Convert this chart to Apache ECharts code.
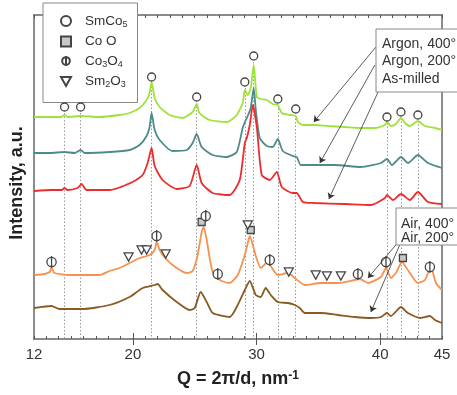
<!DOCTYPE html>
<html>
<head>
<meta charset="utf-8">
<script src="https://cdn.jsdelivr.net/npm/echarts@6/dist/echarts.min.js"></script>
<style>
html, body { margin: 0; padding: 0; background: #fff; }
#chart { width: 457px; height: 395px; }
</style>
</head>
<body>
<div id="chart"></div>
<script>
// Q = 2pi/d (nm^-1), intensity in a.u. (curves shifted as in the figure)
const argon400 = [[12.0,222],[13.26,222],[14.2,222],[14.47,224],[14.7,222],[15.77,223],[17.3,222],[18.92,224],[19.73,226],[20.54,231],[21.11,239],[21.35,246],[21.51,257],[21.76,241],[22.16,232],[22.97,224],[24.02,221],[24.83,227],[25.16,235],[25.38,226],[26.21,219],[27.59,217],[28.4,224],[28.88,236],[29.05,249],[29.29,244],[29.53,251],[29.77,274],[30.02,242],[30.34,240],[30.83,239],[31.3,235],[31.72,234],[32.04,226],[32.69,224],[33.17,223],[33.34,217],[33.74,214],[34.71,214],[35.77,213],[37.14,212],[38.44,211],[39.57,211],[40.38,214],[40.55,217],[40.87,213],[41.27,215],[41.68,221],[42.0,216],[42.4,213],[43.05,218],[43.62,213],[44.43,211],[45.0,209]];
const argon200 = [[12.0,186],[13.26,186],[14.47,187],[15.28,186],[15.77,189],[16.09,186],[18.11,187],[19.73,189],[20.54,194],[21.11,203],[21.35,212],[21.51,226],[21.76,209],[22.16,199],[23.21,188],[24.35,189],[24.83,196],[25.16,205],[25.56,192],[26.45,184],[27.59,182],[28.4,187],[28.88,211],[29.13,219],[29.29,223],[29.53,231],[29.77,251],[29.94,229],[30.26,201],[30.83,193],[31.31,192],[31.72,200],[32.12,188],[32.93,183],[33.25,182],[33.58,174],[34.31,174],[36.33,174],[38.44,172],[40.06,176],[40.55,180],[40.95,174],[41.68,182],[42.24,176],[43.05,184],[43.86,176],[45.0,171]];
const asMilled = [[12.0,148],[13.42,149],[14.23,149],[14.47,151],[14.71,149],[15.52,151],[15.85,155],[16.25,149],[18.11,149],[19.98,157],[20.79,164],[21.19,176],[21.51,191],[21.76,173],[22.4,159],[23.54,150],[24.59,153],[25.16,174],[25.56,156],[26.45,146],[27.83,144],[28.64,159],[29.05,196],[29.21,201],[29.45,214],[29.7,234],[30.02,212],[30.42,164],[31.07,159],[31.64,167],[32.04,152],[32.93,146],[33.25,146],[33.74,137],[34.71,136],[37.14,135],[39.25,134],[40.38,141],[40.55,144],[41.03,139],[41.68,145],[42.4,139],[43.05,147],[43.86,137],[45.0,135]];
const air400 = [[12.0,64],[12.85,65],[13.26,67],[13.42,71],[13.66,66],[14.87,64],[17.3,64],[18.11,68],[18.92,71],[19.73,76],[20.54,81],[21.35,84],[21.76,89],[21.92,97],[22.16,89],[22.4,84],[23.21,74],[24.35,66],[24.83,68],[25.24,84],[25.56,107],[25.72,112],[25.97,99],[26.21,81],[26.45,67],[26.86,61],[27.18,58],[27.83,56],[28.48,64],[29.05,84],[29.29,96],[29.45,103],[29.7,94],[29.94,83],[30.34,71],[30.91,77],[31.15,73],[31.72,64],[32.53,66],[33.09,61],[33.9,54],[35.2,56],[36.58,56],[37.95,59],[38.36,60],[39.01,56],[40.06,62],[40.47,71],[40.87,61],[41.27,66],[41.76,77],[42.24,69],[43.05,56],[43.62,59],[44.1,72],[44.51,56],[45.0,49]];
const air200 = [[12.0,31],[13.42,33],[14.06,30],[15.93,30],[18.11,34],[19.73,42],[20.79,51],[21.76,54],[22.0,55],[22.4,49],[23.54,37],[24.59,29],[25.0,31],[25.48,47],[25.97,37],[26.45,26],[27.83,22],[28.48,34],[29.05,49],[29.45,58],[29.94,44],[30.34,42],[30.74,51],[31.15,44],[31.72,37],[32.53,36],[33.09,34],[33.5,31],[33.9,26],[35.2,26],[36.58,24],[37.95,22],[39.25,21],[40.06,22],[40.55,26],[40.87,23],[41.68,32],[42.24,26],[43.29,21],[44.02,23],[44.43,19],[45.0,16]];

// phase markers [Q, height]
const smco5Marks = [[14.47,232],[15.77,232],[21.51,262],[25.16,242],[29.05,257],[29.77,283],[31.72,240],[33.17,230],[40.55,222],[41.68,227],[43.05,224]];
const cooMarks = [[25.56,117],[29.53,109],[41.84,81]];
const co3o4Marks = [[13.42,77],[21.92,103],[25.89,123],[26.86,65],[31.07,79],[38.2,65],[40.47,77],[44.02,72]];
const sm2o3Marks = [[19.65,82],[20.7,89],[21.11,89],[22.65,85],[29.29,114],[32.61,67],[34.79,64],[35.69,63],[36.82,63]];

const tickLabels = [12, 20, 30, 40, 45];
const majorTicks = [20, 30, 40];

// arrows from the label boxes to the curves
const arrowLines = [
    [[39.65,292],[34.63,217]],
    [[39.57,274],[35.12,176]],
    [[39.98,251],[35.85,140]],
    [[42.08,106],[39.01,61]],
    [[41.68,97],[39.25,27]]
];

const FONT = 'Liberation Sans, Arial, sans-serif';
const INK = '#444';
const symCo3O4 = 'path://M5,0A5,5 0 1,1 5,10A5,5 0 1,1 5,0Z M5,-1.5L5,11.5';
const symSquare = 'path://M0,0L10,0L10,10L0,10Z';
const symTriDown = 'path://M0,0L10,0L5,9Z';

const legendNames = {
    'SmCo5': '{a|SmCo}{b|5}',
    'Co O': '{a|Co O}',
    'Co3O4': '{a|Co}{b|3}{a|O}{b|4}',
    'Sm2O3': '{a|Sm}{b|2}{a|O}{b|3}'
};

let chart = echarts.init(document.getElementById('chart'));

let xBase = {
    type: 'value', min: 12, max: 45,
    splitLine: { show: false },
    axisLine: { onZero: false, lineStyle: { color: '#666', width: 1.5 } }
};
let yBase = {
    type: 'value', min: 0, max: 324,
    splitLine: { show: false },
    axisTick: { show: false },
    axisLabel: { show: false },
    axisLine: { onZero: false, lineStyle: { color: '#666', width: 1.5 } }
};

function curve(name, data, color) {
    return {
        name: name, type: 'line', data: data,
        showSymbol: false, smooth: 0.2, z: 3,
        lineStyle: { color: color, width: 1.8 },
        itemStyle: { color: color }
    };
}
function marks(name, data, symbol, size, fill) {
    return {
        name: name, type: 'scatter', data: data,
        symbol: symbol, symbolSize: size, symbolKeepAspect: true, z: 5,
        itemStyle: { color: fill, borderColor: INK, borderWidth: 1.3, opacity: 1 }
    };
}

// dotted guide lines under the SmCo5 peaks
let guides = marks('SmCo5', smco5Marks, 'circle', 8, '#fff');
guides.markLine = {
    silent: true, symbol: 'none', z: 1,
    label: { show: false },
    lineStyle: { color: '#999', width: 1, type: [1.5, 2] },
    data: smco5Marks.map(function (p) {
        return [{ coord: [p[0], p[1] - 6] }, { coord: [p[0], 0] }];
    })
};

let option = {
    animation: false,
    grid: { left: 34, right: 15, top: 15, bottom: 56, outerBoundsMode: 'none' },
    legend: {
        data: ['SmCo5', 'Co O', 'Co3O4', 'Sm2O3'],
        orient: 'vertical', left: 43, top: 3,
        padding: [11, 10, 13, 17],
        itemWidth: 10, itemHeight: 10, itemGap: 5.5,
        backgroundColor: '#fff', borderColor: '#888', borderWidth: 1,
        selectedMode: false,
        formatter: function (n) { return legendNames[n]; },
        textStyle: {
            padding: [0, 0, 0, 9],
            rich: {
                a: { fontSize: 13.5, fontFamily: FONT, color: '#333', lineHeight: 16 },
                b: { fontSize: 9, fontFamily: FONT, color: '#333', lineHeight: 7, verticalAlign: 'bottom' }
            }
        }
    },
    xAxis: [
        Object.assign({}, xBase, {
            position: 'bottom', interval: 1,
            axisTick: { inside: true, length: 3, lineStyle: { color: '#555' } },
            axisLabel: {
                fontSize: 15, fontFamily: FONT, color: '#333', margin: 8,
                formatter: function (v) { return tickLabels.indexOf(v) >= 0 ? String(v) : ''; }
            },
            name: '{m|Q = 2π/d, nm}{s|-1}',
            nameLocation: 'middle', nameGap: 31,
            nameTextStyle: {
                rich: {
                    m: { fontSize: 18, fontWeight: 'bold', fontFamily: FONT, color: '#222' },
                    s: { fontSize: 12, fontWeight: 'bold', fontFamily: FONT, color: '#222', verticalAlign: 'top', lineHeight: 18 }
                }
            }
        }),
        Object.assign({}, xBase, {
            position: 'bottom', axisLine: { show: false },
            axisTick: { inside: true, length: 6, customValues: majorTicks, lineStyle: { color: '#555' } },
            axisLabel: { show: false }
        }),
        Object.assign({}, xBase, {
            position: 'top', interval: 1,
            axisTick: { inside: true, length: 3, lineStyle: { color: '#555' } },
            axisLabel: { show: false }
        }),
        Object.assign({}, xBase, {
            position: 'top', axisLine: { show: false },
            axisTick: { inside: true, length: 6, customValues: majorTicks, lineStyle: { color: '#555' } },
            axisLabel: { show: false }
        })
    ],
    yAxis: [
        Object.assign({}, yBase, {
            position: 'left',
            name: 'Intensity, a.u.', nameLocation: 'middle', nameGap: 8,
            nameTextStyle: { fontSize: 18, fontWeight: 'bold', fontFamily: FONT, color: '#222', padding: [0, 12, 0, 0] }
        }),
        Object.assign({}, yBase, { position: 'right' })
    ],
    series: [
        curve('Argon, 400°', argon400, '#a0e23c'),
        curve('Argon, 200°', argon200, '#4d8b8a'),
        curve('As-milled', asMilled, '#ee2b2b'),
        curve('Air, 400°', air400, '#f8914f'),
        curve('Air, 200°', air200, '#8a5a22'),
        guides,
        marks('Co O', cooMarks, symSquare, 7, '#c8c8c8'),
        marks('Co3O4', co3o4Marks, symCo3O4, 12, '#fff'),
        marks('Sm2O3', sm2o3Marks, symTriDown, 9, '#fff'),
        {
            type: 'lines', coordinateSystem: 'cartesian2d', z: 6, silent: true,
            data: arrowLines.map(function (c) { return { coords: c }; }),
            symbol: ['none', 'arrow'], symbolSize: 6,
            lineStyle: { color: '#333', width: 0.8, opacity: 1 }
        }
    ],
    graphic: [
        { type: 'rect', z: 10, shape: { x: 376, y: 29, width: 100, height: 63 }, style: { fill: '#fff', stroke: '#888', lineWidth: 1 } },
        { type: 'text', z: 11, x: 382, y: 35, style: { text: 'Argon, 400°\nArgon, 200°\nAs-milled', font: '14px ' + FONT, fill: '#333', lineHeight: 17.5 } },
        { type: 'rect', z: 10, shape: { x: 396, y: 208, width: 80, height: 37 }, style: { fill: '#fff', stroke: '#888', lineWidth: 1 } },
        { type: 'text', z: 11, x: 401, y: 217, style: { text: 'Air, 400°\nAir, 200°', font: '14px ' + FONT, fill: '#333', lineHeight: 14 } }
    ]
};

chart.setOption(option);
</script>
</body>
</html>
